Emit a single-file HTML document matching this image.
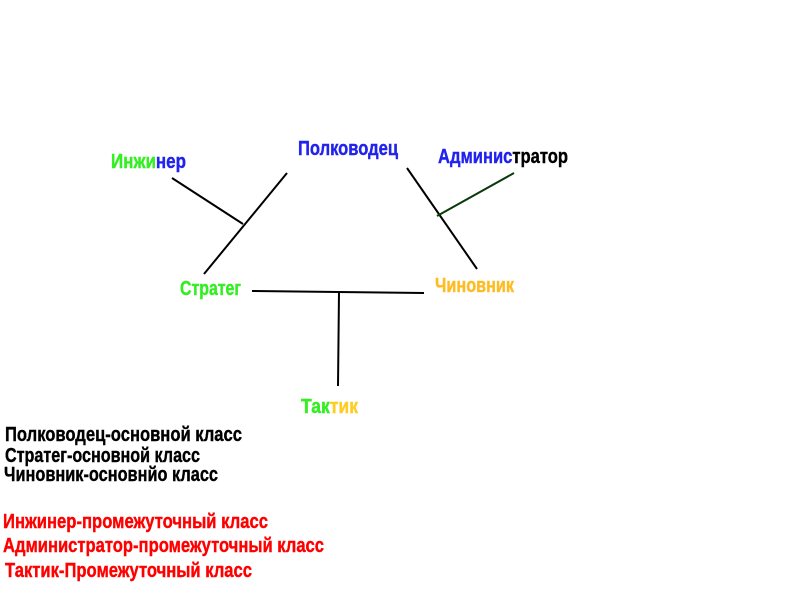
<!DOCTYPE html>
<html><head><meta charset="utf-8"><style>
html,body{margin:0;padding:0;background:#fff;}
svg{display:block}
text{font-family:"Liberation Sans",sans-serif;font-weight:bold;font-size:20px;stroke-width:0.4px;}
</style></head><body>
<svg width="800" height="600" viewBox="0 0 800 600" xmlns="http://www.w3.org/2000/svg">
<g stroke="#000" stroke-width="2" fill="none">
<line x1="172" y1="178" x2="243" y2="224"/>
<line x1="204" y1="274" x2="287" y2="173"/>
<line x1="407" y1="168" x2="477" y2="269"/>
<line x1="437" y1="216" x2="514" y2="173" stroke="#0a3a0a"/>
<polyline points="252,291 338,292 424,293"/>
<line x1="339" y1="292" x2="338" y2="386"/>
</g>
<text x="298" y="155" textLength="100" lengthAdjust="spacingAndGlyphs" fill="#2222ee" stroke="#2222ee">Полководец</text>
<text x="111" y="168" textLength="75" lengthAdjust="spacingAndGlyphs"><tspan fill="#33ee22" stroke="#33ee22">Инжи</tspan><tspan fill="#2222ee" stroke="#2222ee">нер</tspan></text>
<text x="438" y="163" textLength="130" lengthAdjust="spacingAndGlyphs"><tspan fill="#2222ee" stroke="#2222ee">Админис</tspan><tspan fill="#000" stroke="#000">тратор</tspan></text>
<text x="180" y="295" textLength="61" lengthAdjust="spacingAndGlyphs" fill="#33ee22" stroke="#33ee22">Стратег</text>
<text x="435" y="292" textLength="79" lengthAdjust="spacingAndGlyphs" fill="#ffbb22" stroke="#ffbb22">Чиновник</text>
<text x="301" y="413" textLength="57" lengthAdjust="spacingAndGlyphs"><tspan fill="#33ee22" stroke="#33ee22">Так</tspan><tspan fill="#ffcc22" stroke="#ffcc22">тик</tspan></text>
<text x="5" y="441" textLength="237" lengthAdjust="spacingAndGlyphs" fill="#000" stroke="#000">Полководец-основной  класс</text>
<text x="5" y="462" textLength="195" lengthAdjust="spacingAndGlyphs" fill="#000" stroke="#000">Стратег-основной класс</text>
<text x="4" y="481" textLength="214" lengthAdjust="spacingAndGlyphs" fill="#000" stroke="#000">Чиновник-основнйо класс</text>
<text x="3" y="528" textLength="265" lengthAdjust="spacingAndGlyphs" fill="#ff0000" stroke="#ff0000">Инжинер-промежуточный класс</text>
<text x="3" y="552" textLength="321" lengthAdjust="spacingAndGlyphs" fill="#ff0000" stroke="#ff0000">Администратор-промежуточный класс</text>
<text x="5" y="577" textLength="247" lengthAdjust="spacingAndGlyphs" fill="#ff0000" stroke="#ff0000">Тактик-Промежуточный класс</text>
</svg>
</body></html>
